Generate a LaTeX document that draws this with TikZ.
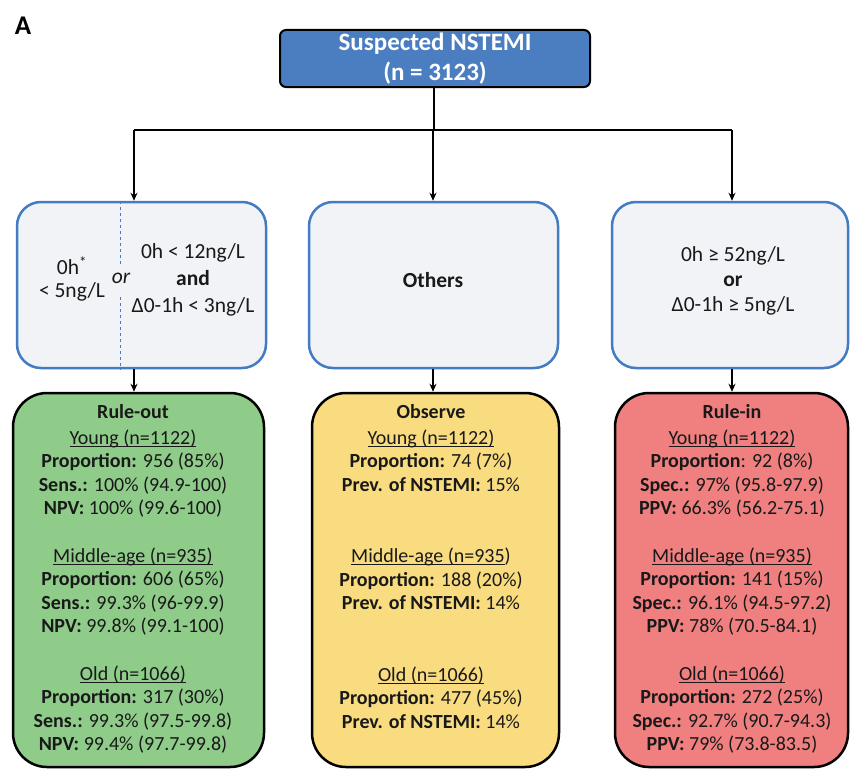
\documentclass[tikz,border=0pt]{standalone}
\usepackage{fontspec}
\setmainfont{Carlito}
\usetikzlibrary{arrows.meta}
\definecolor{topblue}{RGB}{74,126,193}
\definecolor{critfill}{RGB}{242,243,246}
\definecolor{critborder}{RGB}{68,124,196}
\definecolor{outgreen}{RGB}{143,204,138}
\definecolor{obsyellow}{RGB}{249,220,128}
\definecolor{inred}{RGB}{240,128,128}
\definecolor{txt}{RGB}{25,25,25}
\newcommand{\myul}[1]{\setbox0\hbox{#1}\rlap{\rule[-2.4pt]{\wd0}{0.9pt}}\box0}
\tikzset{
  topbox/.style={draw=black, line width=2pt, fill=topblue, rounded corners=6pt, inner sep=0pt,
     minimum width=310pt, minimum height=57pt, text=white, align=center,
     font=\fontsize{25}{30}\selectfont\bfseries},
  critbox/.style={draw=critborder, line width=2.5pt, fill=critfill, rounded corners=24pt,
     inner sep=0pt, minimum height=166pt},
  resbox/.style={draw=black, line width=2.5pt, rounded corners=34pt, inner sep=0pt,
     minimum height=374pt},
  crittext/.style={text=txt, align=center, inner sep=0pt, font=\fontsize{21.5}{27}\selectfont},
  bodytext/.style={text=txt, align=center, inner sep=0pt, anchor=north, font=\fontsize{20}{23.5}\selectfont},
  conn/.style={line width=1.5pt, black},
  arr/.style={conn, -{Stealth[length=8pt,width=7pt]}},
}
\begin{document}
\begin{tikzpicture}[x=1pt,y=-1pt]
\useasboundingbox (0,0) rectangle (850,768);
\fill[white] (0,0) rectangle (850,768);

\node[font=\fontsize{27}{30}\selectfont\bfseries, text=black, inner sep=0pt] (lbl) at (23,26) {A};

\node[topbox] (top) at (435,58.5) {Suspected NSTEMI\\(n = 3123)};

% criteria boxes
\node[critbox, minimum width=249pt] (c1) at (141.5,285) {};
\node[critbox, minimum width=249pt] (c2) at (433.5,285) {};
\node[critbox, minimum width=236pt] (c3) at (730,285) {};

% result boxes
\node[resbox, fill=outgreen, minimum width=251pt] (r1) at (138.5,580) {};
\node[resbox, fill=obsyellow, minimum width=247pt] (r2) at (435.5,580) {};
\node[resbox, fill=inred, minimum width=233pt] (r3) at (731.5,580) {};

% connectors
\coordinate (split) at (434,130);
\coordinate (a1) at (134,130);
\coordinate (a2) at (433,130);
\coordinate (a3) at (732,130);
\draw[conn] (top.south -| split) -- (split);
\draw[conn] (a1) -- (a3);
\draw[arr] (a1) -- (a1 |- c1.north);
\draw[arr] (a2) -- (a2 |- c2.north);
\draw[arr] (a3) -- (a3 |- c3.north);
\draw[arr] (c1.south -| a1) -- (r1.north -| a1);
\draw[arr] (c2.south -| a2) -- (r2.north -| a2);
\draw[arr] (c3.south -| a3) -- (r3.north -| a3);

% dashed divider in left criteria box
\coordinate (d1) at (120,266);
\coordinate (d2) at (120,297);
\draw[critborder, line width=1pt, dash pattern=on 3pt off 3pt] (c1.north -| d1) -- (d1);
\draw[critborder, line width=1pt, dash pattern=on 3pt off 3pt] (d2) -- (c1.south -| d2);

% criteria texts
\node[crittext, font=\fontsize{21.5}{23}\selectfont] (c1a) at (72,279) {0h\textsuperscript{*}\\< 5ng/L};
\node[crittext] (c1or) at (121,278) {\itshape or};
\node[crittext] (c1b) at (193,280) {0h < 12ng/L\\\textbf{and}\\Δ0-1h < 3ng/L};
\node[crittext] (c2t) at (433,280) {\textbf{Others}};
\node[crittext, font=\fontsize{21.5}{25}\selectfont] (c3t) at (733,281) {0h ≥ 52ng/L\\\textbf{or}\\Δ0-1h ≥ 5ng/L};

% result texts
\node[bodytext] (t1) at (133,404) {\textbf{Rule-out}\\[2.5pt]
\myul{Young (n=1122)}\\
\textbf{Proportion:} 956 (85\%)\\
\textbf{Sens.:} 100\% (94.9-100)\\
\textbf{NPV:} 100\% (99.6-100)\\[24pt]
\myul{Middle-age (n=935)}\\
\textbf{Proportion:} 606 (65\%)\\
\textbf{Sens.:} 99.3\% (96-99.9)\\
\textbf{NPV:} 99.8\% (99.1-100)\\[24pt]
\myul{Old (n=1066)}\\
\textbf{Proportion:} 317 (30\%)\\
\textbf{Sens.:} 99.3\% (97.5-99.8)\\
\textbf{NPV:} 99.4\% (97.7-99.8)};

\node[bodytext] (t2) at (431,404) {\textbf{Observe}\\[2.5pt]
\myul{Young (n=1122)}\\
\textbf{Proportion:} 74 (7\%)\\
\textbf{Prev. of NSTEMI:} 15\%\\[48pt]
\myul{Middle-age (n=935})\\
\textbf{Proportion:} 188 (20\%)\\
\textbf{Prev. of NSTEMI:} 14\%\\[48pt]
\myul{Old (n=1066)}\\
\textbf{Proportion:} 477 (45\%)\\
\textbf{Prev. of NSTEMI:} 14\%};

\node[bodytext] (t3) at (732,404) {\textbf{Rule-in}\\[2.5pt]
\myul{Young (n=1122)}\\
\textbf{Proportion}: 92 (8\%)\\
\textbf{Spec.:} 97\% (95.8-97.9)\\
\textbf{PPV:} 66.3\% (56.2-75.1)\\[24pt]
\myul{Middle-age (n=935)}\\
\textbf{Proportion:} 141 (15\%)\\
\textbf{Spec.:} 96.1\% (94.5-97.2)\\
\textbf{PPV:} 78\% (70.5-84.1)\\[24pt]
\myul{Old (n=1066)}\\
\textbf{Proportion:} 272 (25\%)\\
\textbf{Spec.:} 92.7\% (90.7-94.3)\\
\textbf{PPV:} 79\% (73.8-83.5)};
\end{tikzpicture}
\end{document}
